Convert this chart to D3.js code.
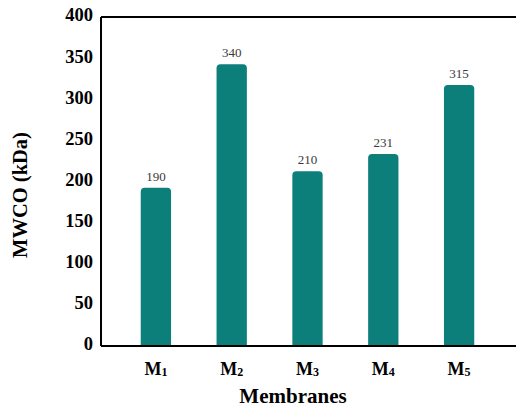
<!DOCTYPE html>
<html>
<head>
<meta charset="utf-8">
<script src="https://cdn.jsdelivr.net/npm/d3@7"></script>
<style>
  body { margin: 0; background: #fff; }
  svg { display: block; }
  svg text { font-family: "Liberation Serif"; }
</style>
</head>
<body>
<div id="chart"></div>
<script>
const categories = ['1', '2', '3', '4', '5'];
const values = [190, 340, 210, 231, 315];
const yTicks = [0, 50, 100, 150, 200, 250, 300, 350, 400];

const width = 516, height = 408;
const plotLeft = 101, plotTop = 17, plotBottom = 346;
const fontSerif = '"Liberation Serif"';

const svg = d3.select('#chart').append('svg')
    .attr('width', width)
    .attr('height', height);

const x = d3.scaleBand()
    .domain(categories)
    .range([118, 497])
    .paddingInner(0.6)
    .paddingOuter(0.3);

const y = d3.scaleLinear()
    .domain([0, 400])
    .range([plotBottom - 2, plotTop - 2]);

// bars with rounded tops
const bw = x.bandwidth();
const r = 4;
svg.selectAll('path.bar')
    .data(values)
    .enter().append('path')
    .attr('class', 'bar')
    .attr('fill', '#0c7f7b')
    .attr('d', (d, i) => {
        const x0 = x(categories[i]), x1 = x0 + bw;
        const y0 = y(d), y1 = plotBottom;
        return `M${x0},${y1}V${y0 + r}Q${x0},${y0} ${x0 + r},${y0}H${x1 - r}Q${x1},${y0} ${x1},${y0 + r}V${y1}Z`;
    });

// value labels
svg.selectAll('text.val')
    .data(values)
    .enter().append('text')
    .attr('class', 'val')
    .attr('x', (d, i) => x(categories[i]) + bw / 2)
    .attr('y', d => y(d) - 7)
    .attr('text-anchor', 'middle')
    .style('font-family', fontSerif)
    .style('font-size', '13px')
    .attr('fill', '#3a3a3a')
    .text(d => d);

// frame lines
svg.append('line')
    .attr('x1', plotLeft).attr('x2', width)
    .attr('y1', plotTop).attr('y2', plotTop)
    .attr('stroke', '#000').attr('stroke-width', 2);
svg.append('line')
    .attr('x1', plotLeft).attr('x2', width)
    .attr('y1', plotBottom).attr('y2', plotBottom)
    .attr('stroke', '#000').attr('stroke-width', 2);

// y axis
const yAxis = svg.append('g')
    .attr('transform', `translate(${plotLeft},0)`)
    .call(d3.axisLeft(y).tickValues(yTicks).tickSize(0).tickPadding(8));
yAxis.attr('font-family', null);
yAxis.select('.domain')
    .attr('d', `M0,${plotTop}V${plotBottom}`)
    .attr('stroke', '#000').attr('stroke-width', 2);
yAxis.selectAll('text')
    .style('font-family', fontSerif)
    .style('font-size', '18.5px')
    .style('font-weight', 'bold')
    .attr('fill', '#000');

// x labels with subscripts
const xl = svg.selectAll('text.xl')
    .data(categories)
    .enter().append('text')
    .attr('class', 'xl')
    .attr('x', d => x(d) + bw / 2)
    .attr('y', 375)
    .attr('text-anchor', 'middle')
    .style('font-family', fontSerif)
    .style('font-size', '18px')
    .style('font-weight', 'bold');
xl.append('tspan').text('M');
xl.append('tspan')
    .style('font-size', '12px')
    .attr('dy', 1)
    .text(d => d);

svg.append('text')
    .attr('x', 293)
    .attr('y', 403)
    .attr('text-anchor', 'middle')
    .style('font-family', fontSerif)
    .style('font-size', '21px')
    .style('font-weight', 'bold')
    .text('Membranes');

svg.append('text')
    .attr('transform', 'translate(27,195) rotate(-90)')
    .attr('text-anchor', 'middle')
    .style('font-family', fontSerif)
    .style('font-size', '20.5px')
    .style('font-weight', 'bold')
    .text('MWCO (kDa)');
</script>
</body>
</html>
